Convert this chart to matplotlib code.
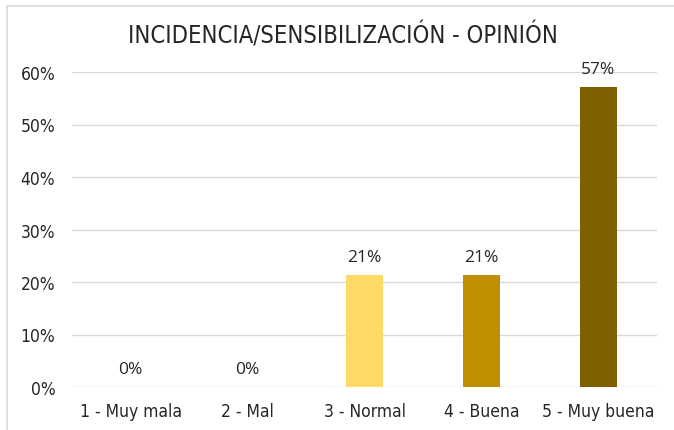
import matplotlib
matplotlib.use("Agg")
import numpy as np
from matplotlib import pyplot as plt
from matplotlib.patches import Rectangle

categories = ["1 - Muy mala", "2 - Mal", "3 - Normal", "4 - Buena", "5 - Muy buena"]
values = [0.0, 0.0, 21.4, 21.4, 57.1]
labels = ["0%", "0%", "21%", "21%", "57%"]
colors = ["#FFD966", "#FFD966", "#FFD966", "#BF8F00", "#7F6000"]
yticks = [0, 10, 20, 30, 40, 50, 60]

W, H = 674, 431
fig = plt.figure(figsize=(W / 100, H / 100), dpi=100)
ax = fig.add_axes([72 / W, 1 - 388 / H, (657 - 72) / W, (388 - 73) / H])

x = np.arange(len(categories))
ax.bar(x, values, width=0.31, color=colors, zorder=3)
for xi, v, lab in zip(x, values, labels):
    ax.annotate(lab, (xi, v), xytext=(0, 13), textcoords="offset points",
                ha="center", va="center", fontsize=12.5, family="Open Sans",
                color="#262626")

ax.set_xlim(-0.5, len(categories) - 0.5)
ax.set_ylim(0, 60)
ax.set_yticks(yticks)
ax.set_yticklabels([f"{t}%" for t in yticks])
ax.set_xticks(x)
ax.set_xticklabels(categories)
ax.grid(axis="y", color="#D9D9D9", lw=1, zorder=0)
for s in ax.spines.values():
    s.set_visible(False)
ax.tick_params(length=0, labelsize=12.5, colors="#262626")
for t in ax.get_xticklabels() + ax.get_yticklabels():
    t.set_family("DejaVu Sans")
    t.set_stretch("condensed")
ax.tick_params(axis="x", pad=11)
ax.tick_params(axis="y", pad=12)

fig.text(343 / W, 1 - 36 / H, "INCIDENCIA/SENSIBILIZACIÓN - OPINIÓN", ha="center",
         va="center", fontsize=17, family="DejaVu Sans", stretch="condensed",
         color="#262626")

fig.patches.append(Rectangle((7 / W, -0.05), 1.1, 1 - 7 / H + 0.05, transform=fig.transFigure,
                             fill=False, ec="#D9D9D9", lw=1.2))

fig.savefig("out.png", dpi=100)
